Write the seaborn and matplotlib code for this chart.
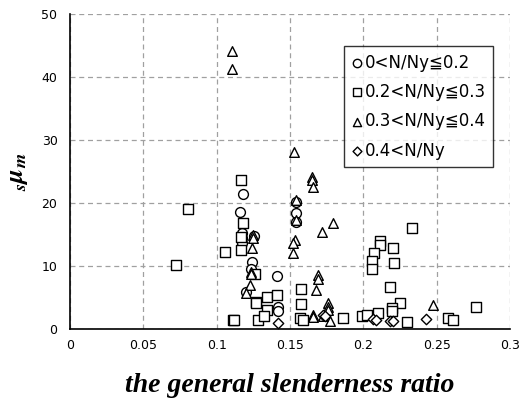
import matplotlib
matplotlib.use("Agg")
import matplotlib.pyplot as plt
import seaborn as sns
import pandas as pd

# ---- data ----
labels = ["0<N/Ny≦0.2", "0.2<N/Ny≦0.3", "0.3<N/Ny≦0.4", "0.4<N/Ny"]

g1_x = [0.1177, 0.1159, 0.117, 0.117, 0.117, 0.1239, 0.1234, 0.1409, 0.142, 0.142,
        0.154, 0.154, 0.154, 0.1257, 0.1198]
g1_y = [21.4, 18.5, 15.2, 14.4, 13.6, 10.6, 9.5, 8.4, 3.5, 2.8,
        20.1, 18.4, 17.0, 14.7, 5.9]

g2_x = [0.1166, 0.0807, 0.1177, 0.1166, 0.1166, 0.1057, 0.0723, 0.1261, 0.1268, 0.1268,
        0.134, 0.141, 0.134, 0.1114, 0.1116, 0.1284, 0.1325, 0.1573, 0.1573, 0.157,
        0.1586, 0.186, 0.199, 0.2114, 0.2114, 0.207, 0.2057, 0.206, 0.2205, 0.2211,
        0.2182, 0.225, 0.2193, 0.2193, 0.210, 0.23, 0.2334, 0.258, 0.261, 0.2768, 0.2023]
g2_y = [23.7, 19.0, 16.9, 14.6, 12.6, 12.2, 10.1, 8.8, 4.3, 4.1,
        5.1, 5.4, 3.0, 1.5, 1.4, 1.4, 2.0, 6.3, 3.9, 1.7,
        1.5, 1.8, 2.1, 14.0, 13.3, 12.0, 10.8, 9.6, 12.8, 10.5,
        6.7, 4.2, 3.3, 2.8, 2.5, 1.1, 16.1, 1.8, 1.5, 3.5, 2.2]

g3_x = [0.1107, 0.1107, 0.1527, 0.165, 0.165, 0.166, 0.154, 0.154, 0.1795, 0.172,
        0.125, 0.125, 0.1534, 0.1523, 0.1523, 0.1239, 0.1234, 0.1234, 0.1227, 0.1198,
        0.1693, 0.1693, 0.1677, 0.176, 0.176, 0.176, 0.166, 0.166, 0.177, 0.2477, 0.1725]
g3_y = [44.2, 41.3, 28.1, 24.1, 23.7, 22.6, 20.5, 17.3, 16.8, 15.4,
        14.9, 14.5, 14.1, 13.6, 12.1, 12.8, 9.1, 8.8, 7.0, 5.7,
        8.6, 8.0, 6.2, 4.1, 3.5, 3.0, 2.2, 1.9, 1.2, 3.8, 2.0]

g4_x = [0.142, 0.1727, 0.174, 0.2068, 0.2085, 0.218, 0.2205, 0.243]
g4_y = [1.0, 2.2, 2.0, 1.6, 1.4, 1.3, 1.2, 1.6]

x_ticks = [0, 0.05, 0.1, 0.15, 0.2, 0.25, 0.3]
x_tick_labels = ["0", "0.05", "0.1", "0.15", "0.2", "0.25", "0.3"]
y_ticks = [0, 10, 20, 30, 40, 50]

rows = []
for lab, xs, ys in zip(labels, [g1_x, g2_x, g3_x, g4_x], [g1_y, g2_y, g3_y, g4_y]):
    for a, b in zip(xs, ys):
        rows.append({"x": a, "y": b, "group": lab})
df = pd.DataFrame(rows)

sns.set_style("white")
plt.rcParams['font.family'] = ['DejaVu Sans', 'Noto Sans CJK JP']
plt.rcParams['mathtext.fontset'] = 'stix'
plt.rcParams['text.color'] = 'black'
plt.rcParams['axes.labelcolor'] = 'black'
plt.rcParams['xtick.color'] = 'black'
plt.rcParams['ytick.color'] = 'black'

fig = plt.figure(figsize=(5.21, 4.03), dpi=100)
ax = fig.add_axes([70/521, 1-329/403, 440/521, 315/403])

markers = {labels[0]: "o", labels[1]: "s", labels[2]: "^", labels[3]: "D"}
sizes_pt = {labels[0]: 50, labels[1]: 56, labels[2]: 48, labels[3]: 28}
for lab in labels:
    sub = df[df["group"] == lab]
    sns.scatterplot(data=sub, x="x", y="y", marker=markers[lab], s=sizes_pt[lab],
                    facecolor="white", edgecolor="black", linewidth=1.0,
                    label=lab, ax=ax, zorder=3)

ax.set_xlim(0, 0.3)
ax.set_ylim(0, 50)
ax.set_xticks(x_ticks)
ax.set_xticklabels(x_tick_labels)
ax.set_yticks(y_ticks)
ax.grid(True, linestyle=(0, (4, 3)), color="#a0a0a0", linewidth=0.9)
ax.set_axisbelow(True)
for s in ["top", "right"]:
    ax.spines[s].set_visible(False)
for s in ["left", "bottom"]:
    ax.spines[s].set_color("black")
    ax.spines[s].set_linewidth(1.2)
ax.tick_params(axis="both", direction="out", length=4, width=1, colors="black",
               labelsize=9)
ax.tick_params(axis="x", pad=3)
ax.tick_params(axis="y", pad=5)

ax.set_xlabel("")
ax.set_ylabel(r"$_{\mathbfit{s}}\mathbfit{\mu}_{\mathbfit{m}}$", fontsize=19, labelpad=8,
              color="black")
fig.text(290/521, 1 - 386/403, "the general slenderness ratio", family="Liberation Serif",
         fontweight="bold", fontstyle="italic", fontsize=20, ha="center", va="center",
         color="black")

leg = ax.legend(loc="upper right", frameon=True, fancybox=False,
                fontsize=12, handletextpad=0.15, borderpad=0.45, labelspacing=0.68,
                handlelength=0.6, markerscale=0.85, borderaxespad=0)
leg.set_bbox_to_anchor(((493-70)/440, 1 - (46-14)/315), transform=ax.transAxes)
leg.get_frame().set_edgecolor("black")
leg.get_frame().set_linewidth(1.0)
for t in leg.get_texts():
    t.set_color("black")

fig.savefig("out.png", dpi=100)
